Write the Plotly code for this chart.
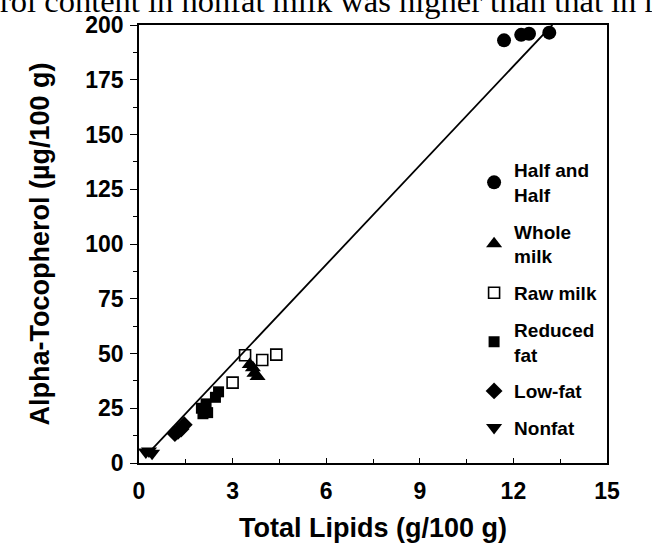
import plotly.graph_objects as go

# ---- data ----
half_x = [11.7, 12.25, 12.5, 13.15]
half_y = [193, 195.5, 196, 196.5]

whole_x = [3.55, 3.65, 3.7, 3.8]
whole_y = [45, 43.5, 41, 39.5]

raw_x = [3.0, 3.4, 3.95, 4.4]
raw_y = [36.7, 49.2, 47, 49.5]

reduced_x = [2.0, 2.05, 2.15, 2.2, 2.1, 2.55, 2.45]
reduced_y = [25, 22.5, 27, 23, 24, 32.5, 30]

lowfat_x = [1.15, 1.25, 1.35, 1.45]
lowfat_y = [13.5, 14.5, 15.5, 17.5]

nonfat_x = [0.22, 0.32, 0.42]
nonfat_y = [5, 5.5, 4.5]

line_slope = 15.1
line_intercept = 0.0
line_x_range = [0.3, 13.25]

series_names = ["Half and<br>Half", "Whole<br>milk", "Raw milk",
                "Reduced<br>fat", "Low-fat", "Nonfat"]
x_ticks = [0, 3, 6, 9, 12, 15]
y_ticks = [0, 25, 50, 75, 100, 125, 150, 175, 200]
top_text = "rol content in nonfat milk was higher than that in r"

FONT = "Liberation Sans, Arial, Helvetica, sans-serif"

fig = go.Figure()

line_y = [line_slope * v + line_intercept for v in line_x_range]
fig.add_trace(go.Scatter(x=line_x_range, y=line_y, mode="lines",
                         line=dict(color="black", width=1.8),
                         showlegend=False, hoverinfo="skip"))

specs = [
    (half_x, half_y, "circle", 14, None),
    (whole_x, whole_y, "triangle-up", 14, None),
    (raw_x, raw_y, "square-open", 11, 1.6),
    (reduced_x, reduced_y, "square", 11, None),
    (lowfat_x, lowfat_y, "diamond", 13, None),
    (nonfat_x, nonfat_y, "triangle-down", 14, None),
]
for i, (xs, ys, sym, size, lw) in enumerate(specs):
    marker = dict(symbol=sym, size=size, color="black")
    if lw:
        marker["line"] = dict(color="black", width=lw)
    else:
        marker["line"] = dict(width=0)
    fig.add_trace(go.Scatter(x=xs, y=ys, mode="markers", marker=marker,
                             name=series_names[i], legendgroup=f"g{i}",
                             cliponaxis=False))

fig.add_annotation(text=top_text, xref="paper", yref="paper",
                   x=(-2 - 139.3) / 467.8, y=(463 + 2) / 441,
                   xanchor="left", yanchor="middle", showarrow=False,
                   font=dict(family="Liberation Serif, Times New Roman, serif",
                             size=32.5, color="black"))

fig.update_layout(
    width=652, height=551,
    margin=dict(l=139, r=45, t=22, b=88),
    plot_bgcolor="white", paper_bgcolor="white",
    font=dict(family=FONT, color="black"),
    legend=dict(x=0.716, y=0.712, xanchor="left", yanchor="top",
                font=dict(family=FONT, size=19, weight="bold", color="black"),
                tracegroupgap=9, bgcolor="rgba(0,0,0,0)"),
    xaxis=dict(range=[0, 15], tickvals=x_ticks, ticks="inside", ticklen=5,
               tickwidth=1.3, tickcolor="black", ticklabelstandoff=6,
               minor=dict(dtick=1.5, ticks="inside", ticklen=4, tickwidth=1.2,
                          tickcolor="black"),
               showline=True, linecolor="black", linewidth=1.8, mirror=True,
               showgrid=False, zeroline=False,
               tickfont=dict(family=FONT, size=23, weight="bold"),
               title=dict(text="Total Lipids (g/100 g)", standoff=16,
                          font=dict(family=FONT, size=27, weight="bold"))),
    yaxis=dict(range=[0, 200], tickvals=y_ticks, ticks="outside", ticklen=7,
               tickwidth=1.3, tickcolor="black", ticklabelstandoff=2,
               minor=dict(dtick=12.5, ticks="outside", ticklen=4, tickwidth=1.2,
                          tickcolor="black"),
               showline=True, linecolor="black", linewidth=1.8, mirror=True,
               showgrid=False, zeroline=False,
               tickfont=dict(family=FONT, size=23, weight="bold"),
               title=dict(text="Alpha-Tocopherol (µg/100 g)", standoff=28,
                          font=dict(family=FONT, size=27, weight="bold"))),
)

fig.write_html("out.html", config={"displayModeBar": False},
               post_script="document.body.style.margin='0';")
